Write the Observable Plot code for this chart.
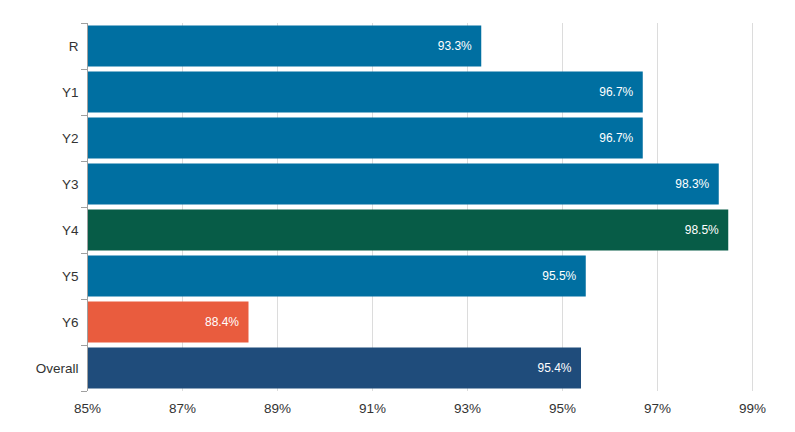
<!DOCTYPE html>
<html>
<head>
<meta charset="utf-8">
<script src="https://cdn.jsdelivr.net/npm/d3@7"></script>
<script src="https://cdn.jsdelivr.net/npm/@observablehq/plot@0.6"></script>
<style>
  html, body { margin: 0; padding: 0; background: #fff; }
  #chart svg { display: block; }
</style>
</head>
<body>
<div id="chart"></div>
<script>
const categories = ["R", "Y1", "Y2", "Y3", "Y4", "Y5", "Y6", "Overall"];
const values = [93.3, 96.7, 96.7, 98.3, 98.5, 95.5, 88.4, 95.4];
const colors = ["#006fa1", "#006fa1", "#006fa1", "#006fa1", "#075c47", "#006fa1", "#e95c3e", "#1f4c7b"];
const xTicks = [85, 87, 89, 91, 93, 95, 97, 99];

const data = categories.map((c, i) => ({cat: c, value: values[i], color: colors[i]}));

const W = 795, H = 432, mTop = 23, mBottom = 41, mLeft = 87, mRight = 43;
const band = (H - mTop - mBottom) / categories.length;
const px = (85 - 99) / (W - mLeft - mRight); // negative value per pixel

const chart = Plot.plot({
  width: W,
  height: H,
  marginTop: mTop,
  marginBottom: mBottom,
  marginLeft: mLeft,
  marginRight: mRight,
  style: {fontFamily: "'Liberation Sans', Arial, sans-serif", color: "#333", background: "#fff"},
  x: {domain: [85, 99]},
  y: {domain: categories, padding: 0},
  marks: [
    Plot.gridX(xTicks.slice(1), {stroke: "#dcdcdc", strokeOpacity: 1}),
    Plot.barX(data, {y: "cat", x1: 85, x2: "value", fill: "color", insetTop: 2.5, insetBottom: 2.5}),
    Plot.text(data, {y: "cat", x: "value", text: d => d.value.toFixed(1) + "%", textAnchor: "end", dx: -10, fill: "white", fontSize: 12}),
    Plot.ruleX([85], {stroke: "#a0a0a0"}),
    Plot.ruleY(categories, {y: d => d, dy: -band / 2, x1: 85 + 6 * px, x2: 85, stroke: "#a0a0a0"}),
    Plot.ruleY([categories[categories.length - 1]], {y: d => d, dy: band / 2, x1: 85 + 6 * px, x2: 85, stroke: "#a0a0a0"}),
    Plot.axisY({tickSize: 0, tickPadding: 9, fontSize: 13.5, label: null}),
    Plot.axisX({ticks: xTicks, tickFormat: d => d + "%", tickSize: 0, tickPadding: 12, fontSize: 13.5, label: null})
  ]
});
document.getElementById("chart").appendChild(chart);
</script>
</body>
</html>
